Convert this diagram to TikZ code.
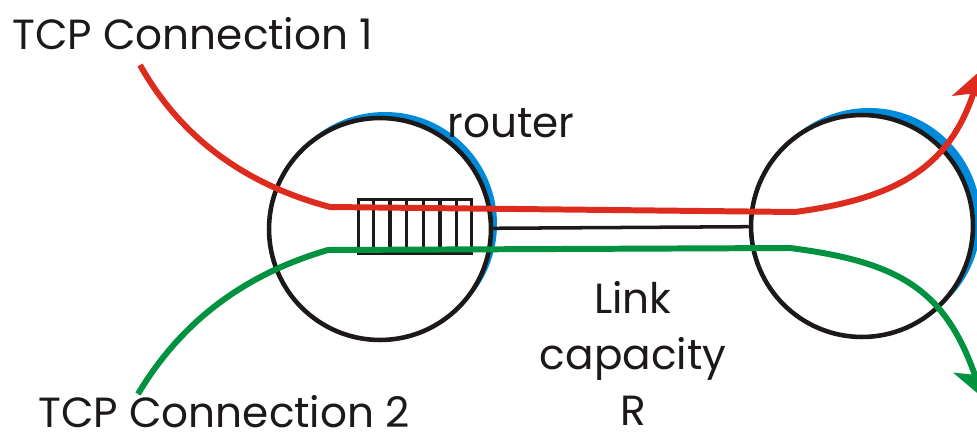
\documentclass[tikz,border=0pt]{standalone}
\usepackage{fontspec}
\setmainfont{Poppins}
\usepackage{tikz}
\usetikzlibrary{arrows.meta,calc}
\definecolor{figline}{RGB}{30,25,25}
\definecolor{figred}{RGB}{221,43,30}
\definecolor{figgreen}{RGB}{0,146,63}
\definecolor{figblue}{RGB}{0,138,218}
\tikzset{
  rt/.style  ={circle, draw=figline, fill=white, line width=2.6pt, minimum size=4.44cm, inner sep=0pt},
  rtsh/.style={fill=figblue},
  qb/.style  ={draw=figline, line width=2pt, minimum width=2.26cm, minimum height=1.08cm, inner sep=0pt},
  qs/.style  ={draw=figline, line width=2pt},
  lk/.style  ={draw=figline, line width=2pt},
  fla/.style ={draw=figred, line width=3.4pt, -{Stealth[length=19pt,width=22pt,inset=5pt]}},
  flb/.style ={draw=figgreen, line width=3.4pt, -{Stealth[length=19pt,width=22pt,inset=5pt]}},
  lab/.style ={font=\fontsize{24}{30}\selectfont, inner sep=0pt, text=figline},
}
\begin{document}
\begin{tikzpicture}[x=0.02cm,y=-0.02cm]
  \useasboundingbox (0,0) rectangle (977,432);
  \fill[rtsh] (385,224) circle[radius=112];
  \fill[rtsh] (869,220) circle[radius=112];
  \node[rt] (rtA) at (380,229) {};
  \node[rt] (rtB) at (862,226) {};
  \node[qb] (q) at (415,226.5) {};
  \foreach \i in {1,...,6}
    \draw[qs] ($(q.north west)!\i/7!(q.north east)$) -- ($(q.south west)!\i/7!(q.south east)$);
  \draw[lk] (rtA) -- (rtB);
  \coordinate (caS) at (140,65);
  \coordinate (caE) at (981,70);
  \coordinate (cbS) at (138,394);
  \coordinate (cbE) at (983,398);
  \draw[fla] (caS) .. controls (172,122) and (228,180) .. (330,207) -- (795,212)
    .. controls (900,198) and (950,165) .. (caE);
  \draw[flb] (cbS) .. controls (172,337) and (228,279) .. (328,250) -- (790,248)
    .. controls (900,262) and (945,290) .. (cbE);
  \node[lab,anchor=base west] (tA) at (12,50) {TCP Connection 1};
  \node[lab,anchor=base west] (tB) at (38,427) {TCP Connection 2};
  \node[lab,anchor=base west] (tR) at (447,138) {router};
  \node[lab,anchor=north,align=center] (tL) at (633,281) {Link\\[2pt]capacity\\[2pt]R};
\end{tikzpicture}
\end{document}
